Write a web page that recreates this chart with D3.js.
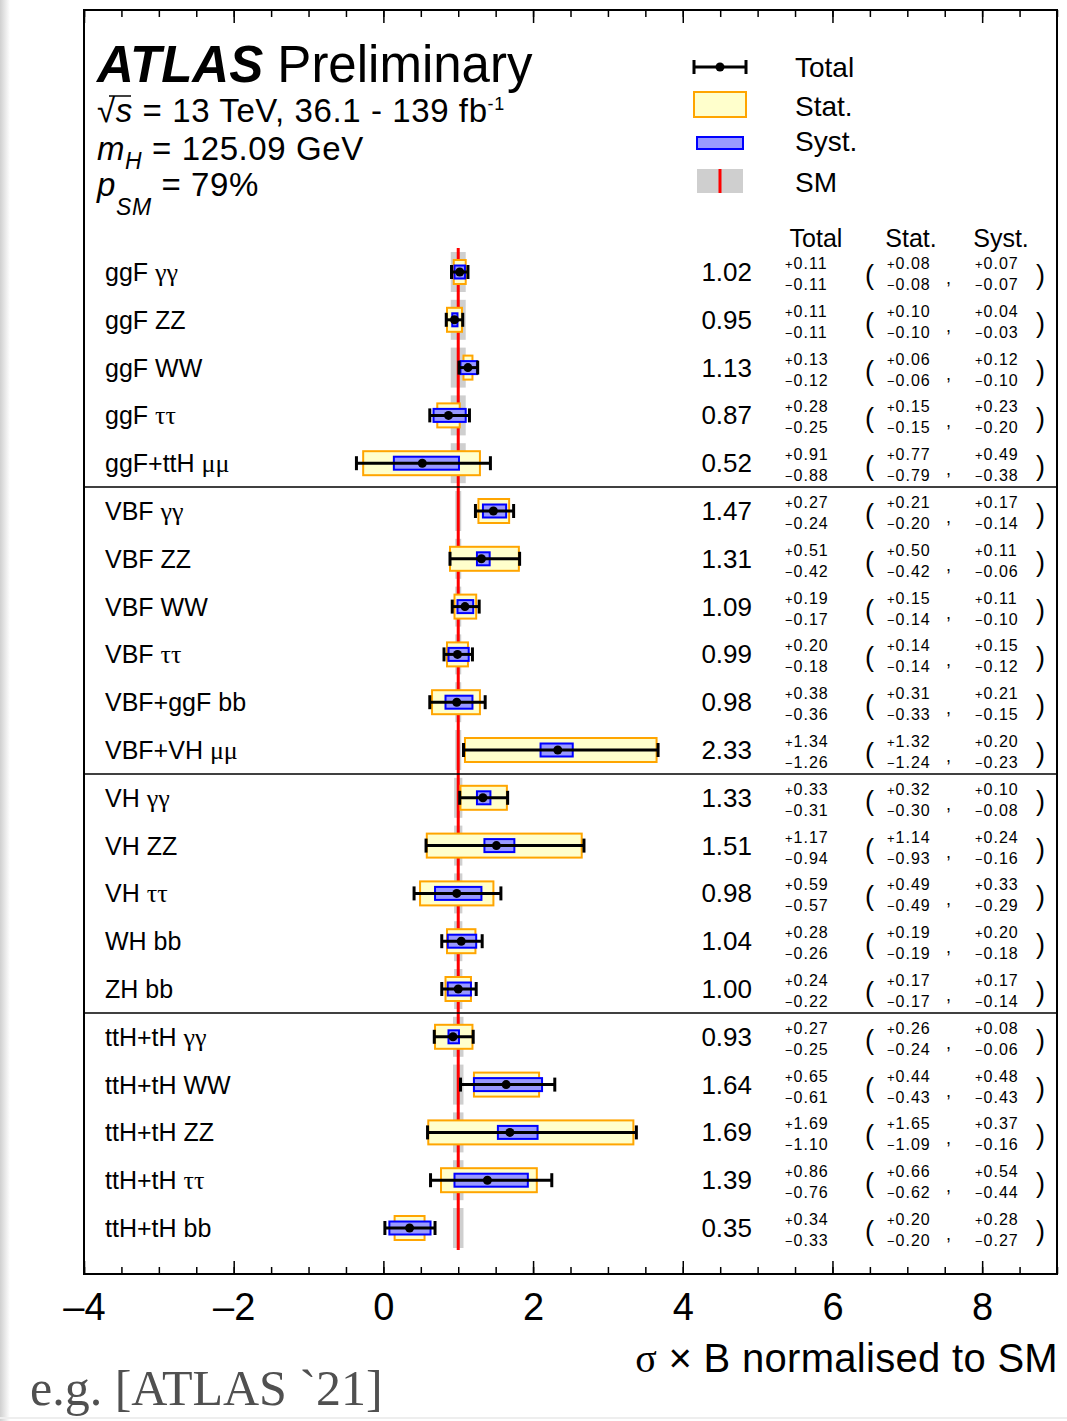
<!DOCTYPE html>
<html>
<head>
<meta charset="utf-8">
<script src="https://cdn.jsdelivr.net/npm/d3@7"></script>
<style>
  html, body { margin: 0; padding: 0; background: #fff; }
  svg { display: block; font-family: "Liberation Sans", Arial, sans-serif; }
</style>
</head>
<body>
<div id="chart"></div>
<script>
// production mode / decay channel of each row, top to bottom
const productions = ['ggF', 'ggF', 'ggF', 'ggF', 'ggF+ttH',
  'VBF', 'VBF', 'VBF', 'VBF', 'VBF+ggF', 'VBF+VH',
  'VH', 'VH', 'VH', 'WH', 'ZH',
  'ttH+tH', 'ttH+tH', 'ttH+tH', 'ttH+tH', 'ttH+tH']
const decays = ['γγ', 'ZZ', 'WW', 'ττ', 'μμ',
  'γγ', 'ZZ', 'WW', 'ττ', 'bb', 'μμ',
  'γγ', 'ZZ', 'ττ', 'bb', 'bb',
  'γγ', 'WW', 'ZZ', 'ττ', 'bb']
const greek = ['γγ', 'ττ', 'μμ']

const central = [1.02, 0.95, 1.13, 0.87, 0.52,
  1.47, 1.31, 1.09, 0.99, 0.98, 2.33,
  1.33, 1.51, 0.98, 1.04, 1.00,
  0.93, 1.64, 1.69, 1.39, 0.35]
const totUp = [0.11, 0.11, 0.13, 0.28, 0.91, 0.27, 0.51, 0.19, 0.20, 0.38, 1.34, 0.33, 1.17, 0.59, 0.28, 0.24, 0.27, 0.65, 1.69, 0.86, 0.34]
const totDn = [0.11, 0.11, 0.12, 0.25, 0.88, 0.24, 0.42, 0.17, 0.18, 0.36, 1.26, 0.31, 0.94, 0.57, 0.26, 0.22, 0.25, 0.61, 1.10, 0.76, 0.33]
const statUp = [0.08, 0.10, 0.06, 0.15, 0.77, 0.21, 0.50, 0.15, 0.14, 0.31, 1.32, 0.32, 1.14, 0.49, 0.19, 0.17, 0.26, 0.44, 1.65, 0.66, 0.20]
const statDn = [0.08, 0.10, 0.06, 0.15, 0.79, 0.20, 0.42, 0.14, 0.14, 0.33, 1.24, 0.30, 0.93, 0.49, 0.19, 0.17, 0.24, 0.43, 1.09, 0.62, 0.20]
const systUp = [0.07, 0.04, 0.12, 0.23, 0.49, 0.17, 0.11, 0.11, 0.15, 0.21, 0.20, 0.10, 0.24, 0.33, 0.20, 0.17, 0.08, 0.48, 0.37, 0.54, 0.28]
const systDn = [0.07, 0.03, 0.10, 0.20, 0.38, 0.14, 0.06, 0.10, 0.12, 0.15, 0.23, 0.08, 0.16, 0.29, 0.18, 0.14, 0.06, 0.43, 0.16, 0.44, 0.27]
// SM prediction uncertainty (grey band), read off roughly
const smUnc = [0.10, 0.10, 0.10, 0.10, 0.10,
  0.04, 0.04, 0.04, 0.04, 0.04, 0.04,
  0.055, 0.055, 0.055, 0.055, 0.055,
  0.07, 0.07, 0.07, 0.07, 0.07]
// rows after which a separator line is drawn
const groupEnds = [4, 10, 15]

const majorTicks = [-4, -2, 0, 2, 4, 6, 8]

const W = 1067, H = 1421
const fLeft = 84, fRight = 1057, fTop = 10, fBottom = 1274

const svg = d3.select('#chart').append('svg')
  .attr('width', W)
  .attr('height', H)

// faint page edge shading
const grad = svg.append('defs').append('linearGradient').attr('id', 'edge')
grad.append('stop').attr('offset', '0%').attr('stop-color', '#d0d0d0')
grad.append('stop').attr('offset', '100%').attr('stop-color', '#fff')
svg.append('rect').attr('x', 0).attr('y', 0).attr('width', 10).attr('height', H).attr('fill', 'url(#edge)')

const x = d3.scaleLinear().domain([-4, 9]).range([fLeft, fRight])
const y = d3.scalePoint().domain(d3.range(central.length)).range([272, 1228])

const rows = central.map((c, i) => ({ i, c }))

// SM band + line
svg.append('g').selectAll('rect').data(rows).join('rect')
  .attr('x', d => x(1 - smUnc[d.i]))
  .attr('width', d => x(1 + smUnc[d.i]) - x(1 - smUnc[d.i]))
  .attr('y', d => y(d.i) - 20)
  .attr('height', 40)
  .attr('fill', '#cfcfcf')
svg.append('line')
  .attr('x1', x(1)).attr('x2', x(1))
  .attr('y1', y(0) - 24).attr('y2', y(central.length - 1) + 22)
  .attr('stroke', '#ff0000').attr('stroke-width', 3)

// separators
svg.append('g').selectAll('line').data(groupEnds).join('line')
  .attr('x1', fLeft).attr('x2', fRight)
  .attr('y1', d => (y(d) + y(d + 1)) / 2)
  .attr('y2', d => (y(d) + y(d + 1)) / 2)
  .attr('stroke', '#000').attr('stroke-width', 1.5)

// stat boxes
svg.append('g').selectAll('rect').data(rows).join('rect')
  .attr('x', d => x(d.c - statDn[d.i]))
  .attr('width', d => x(d.c + statUp[d.i]) - x(d.c - statDn[d.i]))
  .attr('y', d => y(d.i) - 12)
  .attr('height', 24)
  .attr('fill', '#ffffcc').attr('stroke', '#ffa500').attr('stroke-width', 2)

// syst boxes
svg.append('g').selectAll('rect').data(rows).join('rect')
  .attr('x', d => x(d.c - systDn[d.i]))
  .attr('width', d => x(d.c + systUp[d.i]) - x(d.c - systDn[d.i]))
  .attr('y', d => y(d.i) - 6.5)
  .attr('height', 13)
  .attr('fill', '#9999ff').attr('stroke', '#0000ff').attr('stroke-width', 2)

// total error bars
const bars = svg.append('g').attr('stroke', '#000').attr('stroke-width', 3)
bars.selectAll('.h').data(rows).join('line').attr('class', 'h')
  .attr('x1', d => x(d.c - totDn[d.i])).attr('x2', d => x(d.c + totUp[d.i]))
  .attr('y1', d => y(d.i)).attr('y2', d => y(d.i))
bars.selectAll('.lo').data(rows).join('line').attr('class', 'lo')
  .attr('x1', d => x(d.c - totDn[d.i])).attr('x2', d => x(d.c - totDn[d.i]))
  .attr('y1', d => y(d.i) - 7).attr('y2', d => y(d.i) + 7)
bars.selectAll('.hi').data(rows).join('line').attr('class', 'hi')
  .attr('x1', d => x(d.c + totUp[d.i])).attr('x2', d => x(d.c + totUp[d.i]))
  .attr('y1', d => y(d.i) - 7).attr('y2', d => y(d.i) + 7)
svg.append('g').selectAll('circle').data(rows).join('circle')
  .attr('cx', d => x(d.c)).attr('cy', d => y(d.i)).attr('r', 4.5).attr('fill', '#000')

// row labels
const lab = svg.append('g').selectAll('text').data(rows).join('text')
  .attr('x', 105).attr('y', d => y(d.i) + 9)
  .attr('font-size', 25)
lab.append('tspan').text(d => productions[d.i] + ' ')
lab.append('tspan')
  .attr('font-family', d => greek.includes(decays[d.i]) ? '"Liberation Serif", serif' : null)
  .attr('font-size', d => greek.includes(decays[d.i]) ? 26 : null)
  .text(d => decays[d.i])

// table
const f2 = d3.format('.2f')
svg.append('g').selectAll('text').data(rows).join('text')
  .attr('x', 752).attr('y', d => y(d.i) + 9)
  .attr('text-anchor', 'end').attr('font-size', 26)
  .text(d => f2(d.c))

function upDown (g, xPos, up, dn) {
  const t1 = g.append('text').attr('x', xPos).attr('y', d => y(d.i) - 3).attr('font-size', 16).attr('letter-spacing', 1)
  t1.append('tspan').attr('font-size', 13).text('+')
  t1.append('tspan').text(d => f2(up[d.i]))
  const t2 = g.append('text').attr('x', xPos).attr('y', d => y(d.i) + 18).attr('font-size', 16).attr('letter-spacing', 1)
  t2.append('tspan').attr('font-size', 13).text('−')
  t2.append('tspan').text(d => f2(dn[d.i]))
}
const cells = svg.append('g').selectAll('g').data(rows).join('g')
upDown(cells, 785, totUp, totDn)
upDown(cells, 887, statUp, statDn)
upDown(cells, 975, systUp, systDn)
cells.append('text').attr('x', 865).attr('y', d => y(d.i) + 12).attr('font-size', 27).text('(')
cells.append('text').attr('x', 946).attr('y', d => y(d.i) + 12).attr('font-size', 18).text(',')
cells.append('text').attr('x', 1036).attr('y', d => y(d.i) + 12).attr('font-size', 27).text(')')

const heads = svg.append('g').attr('font-size', 25).attr('text-anchor', 'middle')
heads.append('text').attr('x', 816).attr('y', 247).text('Total')
heads.append('text').attr('x', 911).attr('y', 247).text('Stat.')
heads.append('text').attr('x', 1001).attr('y', 247).text('Syst.')

// axes: major + minor ticks on bottom and top, pointing inward
const fmt = d => d3.format('d')(d).replace('−', '–')
svg.append('g').attr('transform', `translate(0,${fBottom})`)
  .call(d3.axisBottom(x).tickValues(majorTicks).tickSize(-13).tickPadding(19).tickFormat(fmt))
  .call(g => g.select('.domain').remove())
  .call(g => g.selectAll('line').attr('stroke-width', 1.5))
  .call(g => g.selectAll('text').attr('font-size', 38).attr('font-family', '"Liberation Sans", Arial, sans-serif').attr('fill', '#000'))
svg.append('g').attr('transform', `translate(0,${fBottom})`)
  .call(d3.axisBottom(x).tickValues(d3.range(-4, 9.01, 0.5)).tickSize(-7).tickFormat(''))
  .call(g => g.select('.domain').remove())
  .call(g => g.selectAll('line').attr('stroke-width', 1.5))
svg.append('g').attr('transform', `translate(0,${fTop})`)
  .call(d3.axisTop(x).tickValues(majorTicks).tickSize(-13).tickFormat(''))
  .call(g => g.select('.domain').remove())
  .call(g => g.selectAll('line').attr('stroke-width', 1.5))
svg.append('g').attr('transform', `translate(0,${fTop})`)
  .call(d3.axisTop(x).tickValues(d3.range(-4, 9.01, 0.5)).tickSize(-7).tickFormat(''))
  .call(g => g.select('.domain').remove())
  .call(g => g.selectAll('line').attr('stroke-width', 1.5))

// frame
svg.append('rect').attr('x', fLeft).attr('y', fTop)
  .attr('width', fRight - fLeft).attr('height', fBottom - fTop)
  .attr('fill', 'none').attr('stroke', '#000').attr('stroke-width', 2)

// axis title
const xt = svg.append('text').attr('x', 1058).attr('y', 1372)
  .attr('text-anchor', 'end').attr('font-size', 40).attr('letter-spacing', 0.3)
xt.append('tspan').attr('font-family', '"Liberation Serif", serif').text('σ')
xt.append('tspan').text(' × B normalised to SM')

// header
const h1 = svg.append('text').attr('x', 97).attr('y', 82).attr('font-size', 51)
h1.append('tspan').attr('font-weight', 'bold').attr('font-style', 'italic').text('ATLAS')
h1.append('tspan').text(' Preliminary')

const h2 = svg.append('text').attr('x', 97).attr('y', 122).attr('font-size', 33).attr('letter-spacing', 0.6)
h2.append('tspan').text('√')
h2.append('tspan').attr('font-style', 'italic').text('s')
h2.append('tspan').text(' = 13 TeV, 36.1 - 139 fb')
h2.append('tspan').attr('font-size', 18).attr('dy', -12).text('-1')
svg.append('line').attr('x1', 109).attr('x2', 131).attr('y1', 96).attr('y2', 96)
  .attr('stroke', '#000').attr('stroke-width', 1.5)

const h3 = svg.append('text').attr('x', 97).attr('y', 160).attr('font-size', 33).attr('letter-spacing', 0.6)
h3.append('tspan').attr('font-style', 'italic').text('m')
h3.append('tspan').attr('font-style', 'italic').attr('font-size', 23).attr('dy', 9).text('H')
h3.append('tspan').attr('dy', -9).text(' = 125.09 GeV')

const h4 = svg.append('text').attr('x', 97).attr('y', 196).attr('font-size', 33).attr('letter-spacing', 0.6)
h4.append('tspan').attr('font-style', 'italic').text('p')
h4.append('tspan').attr('font-style', 'italic').attr('font-size', 23).attr('dy', 19).text('SM')
h4.append('tspan').attr('dy', -19).text(' = 79%')

// legend
const lg = svg.append('g')
lg.append('line').attr('x1', 694).attr('x2', 746).attr('y1', 67).attr('y2', 67).attr('stroke', '#000').attr('stroke-width', 3)
lg.append('line').attr('x1', 694).attr('x2', 694).attr('y1', 60).attr('y2', 74).attr('stroke', '#000').attr('stroke-width', 3)
lg.append('line').attr('x1', 746).attr('x2', 746).attr('y1', 60).attr('y2', 74).attr('stroke', '#000').attr('stroke-width', 3)
lg.append('circle').attr('cx', 720).attr('cy', 67).attr('r', 4.5).attr('fill', '#000')
lg.append('rect').attr('x', 694).attr('y', 92).attr('width', 52).attr('height', 25)
  .attr('fill', '#ffffcc').attr('stroke', '#ffa500').attr('stroke-width', 2)
lg.append('rect').attr('x', 697).attr('y', 137).attr('width', 46).attr('height', 12)
  .attr('fill', '#9999ff').attr('stroke', '#0000ff').attr('stroke-width', 2)
lg.append('rect').attr('x', 697).attr('y', 169).attr('width', 46).attr('height', 24).attr('fill', '#cfcfcf')
lg.append('line').attr('x1', 720).attr('x2', 720).attr('y1', 169).attr('y2', 193).attr('stroke', '#ff0000').attr('stroke-width', 3)
const lgText = ['Total', 'Stat.', 'Syst.', 'SM']
const lgY = [77, 116, 151, 192]
lg.selectAll('text').data(lgText).join('text')
  .attr('x', 795).attr('y', (d, i) => lgY[i]).attr('font-size', 28).text(d => d)

// citation
svg.append('text').attr('x', 30).attr('y', 1405)
  .attr('font-family', '"Liberation Serif", serif').attr('font-size', 50).attr('fill', '#505050')
  .text('e.g. [ATLAS `21]')
svg.append('line').attr('x1', 0).attr('x2', W).attr('y1', 1418).attr('y2', 1418)
  .attr('stroke', '#eee').attr('stroke-width', 2)
</script>
</body>
</html>
